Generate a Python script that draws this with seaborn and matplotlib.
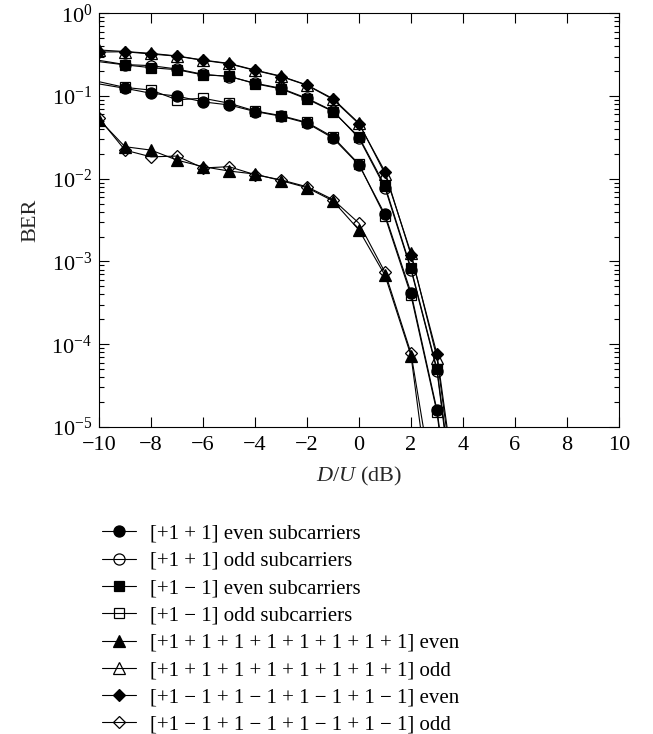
import matplotlib
matplotlib.use("Agg")
import matplotlib.pyplot as plt
import seaborn as sns
from matplotlib.ticker import LogLocator, NullFormatter

# D/U ratio in dB
du_db = [-10, -9, -8, -7, -6, -5, -4, -3, -2, -1, 0, 1, 2, 3, 4]

# BER curves, two-tap patterns
ber_pp_even = [0.14, 0.124, 0.108, 0.100, 0.085, 0.078, 0.065, 0.057, 0.047, 0.031, 0.0147, 0.0037, 4.2e-4, 1.6e-5, 8e-8]
ber_pp_odd = [0.27, 0.240, 0.233, 0.212, 0.183, 0.172, 0.143, 0.124, 0.094, 0.066, 0.031, 0.0078, 8.0e-4, 4.8e-5, 1.5e-7]
ber_pm_even = [0.26, 0.238, 0.220, 0.208, 0.180, 0.174, 0.141, 0.122, 0.092, 0.065, 0.032, 0.0082, 8.3e-4, 5.0e-5, 2e-7]
ber_pm_odd = [0.149, 0.127, 0.118, 0.090, 0.094, 0.082, 0.066, 0.058, 0.048, 0.032, 0.015, 0.0035, 3.9e-4, 1.5e-5, 5e-8]

# BER curves, eight-tap patterns
ber_8p_even = [0.052, 0.0244, 0.0222, 0.0168, 0.0140, 0.0124, 0.0114, 0.0095, 0.0078, 0.0054, 0.0024, 6.8e-4, 7.3e-5, 3e-7, 1e-9]
ber_8p_odd = [0.36, 0.345, 0.328, 0.305, 0.272, 0.248, 0.206, 0.174, 0.136, 0.093, 0.047, 0.0115, 1.26e-3, 6.8e-5, 3e-7]
ber_8a_even = [0.34, 0.343, 0.322, 0.303, 0.270, 0.245, 0.204, 0.172, 0.135, 0.091, 0.046, 0.0122, 1.2e-3, 7.6e-5, 4e-7]
ber_8a_odd = [0.054, 0.0222, 0.0184, 0.0188, 0.0135, 0.0140, 0.0112, 0.0097, 0.0080, 0.0056, 0.0029, 7.4e-4, 7.8e-5, 1e-6, 1e-9]

labels = [
    "[+1 + 1] even subcarriers",
    "[+1 + 1] odd subcarriers",
    "[+1 \u2212 1] even subcarriers",
    "[+1 \u2212 1] odd subcarriers",
    "[+1 + 1 + 1 + 1 + 1 + 1 + 1 + 1] even",
    "[+1 + 1 + 1 + 1 + 1 + 1 + 1 + 1] odd",
    "[+1 \u2212 1 + 1 \u2212 1 + 1 \u2212 1 + 1 \u2212 1] even",
    "[+1 \u2212 1 + 1 \u2212 1 + 1 \u2212 1 + 1 \u2212 1] odd",
]
curves = [ber_pp_even, ber_pp_odd, ber_pm_even, ber_pm_odd,
          ber_8p_even, ber_8p_odd, ber_8a_even, ber_8a_odd]

markers = ["o", "o", "s", "s", "^", "^", "D", "D"]
filled = [True, False, True, False, True, False, True, False]
sizes = [8, 8, 7, 7, 8, 8, 6.5, 6.5]
skip_first = [True, True, True, True, False, False, False, False]

sns.set_style("ticks")
plt.rcParams.update({
    "font.family": ["Liberation Serif", "DejaVu Serif"],
    "mathtext.fontset": "custom",
    "mathtext.rm": "Liberation Serif",
    "mathtext.it": "Liberation Serif:italic",
    "mathtext.bf": "Liberation Serif:bold",
    "font.size": 15,
    "axes.linewidth": 0.8,
    "axes.edgecolor": "black",
    "text.color": "black",
    "xtick.color": "black",
    "ytick.color": "black",
})

fig = plt.figure(figsize=(6.53, 7.34), dpi=100)
ax = fig.add_axes([0.1516, 0.4183, 0.7963, 0.5636])
ax.set_yscale("log")

for lab, ys, mk, fl, ms in zip(labels, curves, markers, filled, sizes):
    sns.lineplot(
        x=du_db, y=ys, ax=ax, label=lab, color="black",
        linewidth=0.8, marker=mk, markersize=ms,
        markerfacecolor="black" if fl else "none",
        markeredgecolor="black", markeredgewidth=0.9,
    )

ax.set_xlim(-10, 10)
ax.set_ylim(1e-5, 1)
ax.set_xticks(range(-10, 11, 2))
ax.yaxis.set_major_locator(LogLocator(base=10, numticks=10))
ax.yaxis.set_minor_locator(LogLocator(base=10, subs=range(2, 10), numticks=20))
ax.yaxis.set_minor_formatter(NullFormatter())
ax.tick_params(which="both", direction="in", top=True, right=True,
               labelsize=16, width=0.8)
ax.tick_params(which="major", length=7)
ax.tick_params(which="minor", length=3.5)
ax.tick_params(axis="x", which="major", pad=6.5)
ax.tick_params(axis="y", which="major", pad=5)
ax.set_xlabel("$D/U$ (dB)", fontsize=16, labelpad=7)
ax.set_ylabel("BER", fontsize=16, labelpad=8)

handles, labs = ax.get_legend_handles_labels()
ax.get_legend().remove()
fig.legend(handles, labs, loc="upper left", bbox_to_anchor=(0.1557, 0.2860),
           frameon=False, borderpad=0, borderaxespad=0, handlelength=1.67,
           handletextpad=0.63, labelspacing=0.37, fontsize=15)

# the two-tap curves show markers from -9 dB onwards
for line, skip in zip(ax.get_lines(), skip_first):
    if skip:
        line.set_markevery(slice(1, None))

fig.savefig("out.png", dpi=100)
